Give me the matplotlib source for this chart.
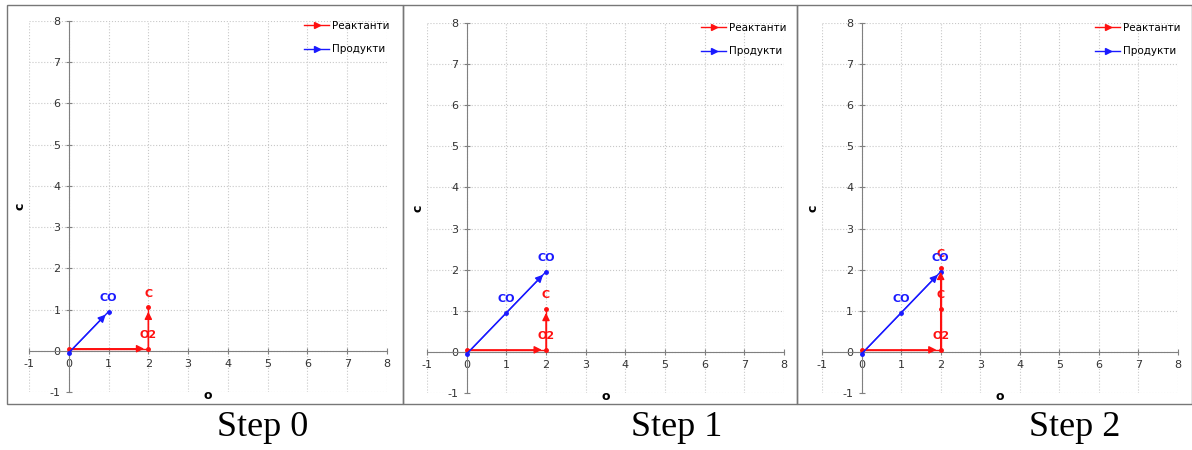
import numpy as np
import matplotlib
matplotlib.use('Agg')
import matplotlib.pyplot as plt
from matplotlib.lines import Line2D
from matplotlib.patches import Rectangle

plt.rcParams['axes.unicode_minus'] = False

steps = ['Step 0', 'Step 1', 'Step 2']

# path of reactant vectors (o, c) for each step, with species names per segment
react_x = [[0, 2, 2], [0, 2, 2], [0, 2, 2, 2]]
react_y = [[0, 0, 1], [0, 0, 1], [0, 0, 1, 2]]
react_names = [['O2', 'C'], ['O2', 'C'], ['O2', 'C', 'C']]

# path of product vectors
prod_x = [[0, 1], [0, 1, 2], [0, 1, 2]]
prod_y = [[0, 1], [0, 1, 2], [0, 1, 2]]
prod_names = [['CO'], ['CO', 'CO'], ['CO', 'CO']]

ticks = list(range(-1, 9))
legend_names = ['Реактанти', 'Продукти']

W, H = 1192, 450
axes_px = [(29, 21, 387, 392), (427, 23, 784, 393), (822, 23, 1178, 393)]
boxes_px = [(7, 5, 403, 404), (403, 5, 797, 404), (797, 5, 1192, 404)]
step_x = [263, 677, 1075]

fig = plt.figure(figsize=(W / 100, H / 100), dpi=100)


def draw_path(ax, xs, ys, names, color, dy):
    xs = np.array(xs, float)
    ys = np.array(ys, float) + dy
    ax.plot(xs, ys, color=color, lw=1, marker='o', ms=2.5, zorder=3)
    # one arrow per run of the same species
    i = 0
    while i < len(names):
        j = i
        while j + 1 < len(names) and names[j + 1] == names[i]:
            j += 1
        ax.annotate('', xy=(xs[j + 1], ys[j + 1]), xytext=(xs[i], ys[i]),
                    arrowprops=dict(arrowstyle='-|>', color=color, lw=1,
                                    shrinkA=0, shrinkB=3, mutation_scale=11),
                    zorder=4)
        i = j + 1
    for k, nm in enumerate(names):
        ax.text(xs[k + 1], ys[k + 1] + 0.33, nm, color=color, fontsize=8,
                fontweight='bold', ha='center', va='center', zorder=5)


for n in range(3):
    x0, y0, x1, y1 = axes_px[n]
    ax = fig.add_axes([x0 / W, 1 - y1 / H, (x1 - x0) / W, (y1 - y0) / H])
    ax.set_xlim(-1, 8)
    ax.set_ylim(-1, 8)
    ax.set_xticks(ticks)
    ax.set_yticks(ticks)
    ax.grid(True, ls=':', color='#c8c8c8', lw=0.8)
    ax.set_axisbelow(True)
    for s in ['top', 'right']:
        ax.spines[s].set_visible(False)
    ax.spines['left'].set_position(('data', 0))
    ax.spines['bottom'].set_position(('data', 0))
    for s in ['left', 'bottom']:
        ax.spines[s].set_color('#808080')
    ax.tick_params(colors='#808080', labelcolor='#333333', labelsize=8,
                   direction='inout', length=5)
    ax.patch.set_alpha(0)

    draw_path(ax, react_x[n], react_y[n], react_names[n], '#ff1010', 0.05)
    draw_path(ax, prod_x[n], prod_y[n], prod_names[n], '#1a1aff', -0.05)

    ax.text(-0.025, 0.5, 'c', transform=ax.transAxes, rotation=90,
            ha='center', va='center', fontsize=9, fontweight='bold')
    ax.text(0.5, -0.01, 'o', transform=ax.transAxes, ha='center', va='center',
            fontsize=9, fontweight='bold')

    handles = [Line2D([0], [0], color='#ff1010', lw=1, marker='>', ms=5),
               Line2D([0], [0], color='#1a1aff', lw=1, marker='>', ms=5)]
    ax.legend(handles, legend_names, loc='upper right', frameon=False,
              fontsize=7.5, handlelength=2.4, handletextpad=0.3,
              labelspacing=1.3, borderaxespad=0.0,
              bbox_to_anchor=(1.02, 1.012))

    bx0, by0, bx1, by1 = boxes_px[n]
    fig.add_artist(Rectangle((bx0 / W, 1 - by1 / H), (bx1 - bx0) / W,
                             (by1 - by0) / H, transform=fig.transFigure,
                             fill=False, ec='#777777', lw=1))

    fig.text(step_x[n] / W, 1 - 428 / H, steps[n], ha='center', va='center',
             fontsize=26, family='Liberation Serif')

fig.savefig('out.png', dpi=100)
